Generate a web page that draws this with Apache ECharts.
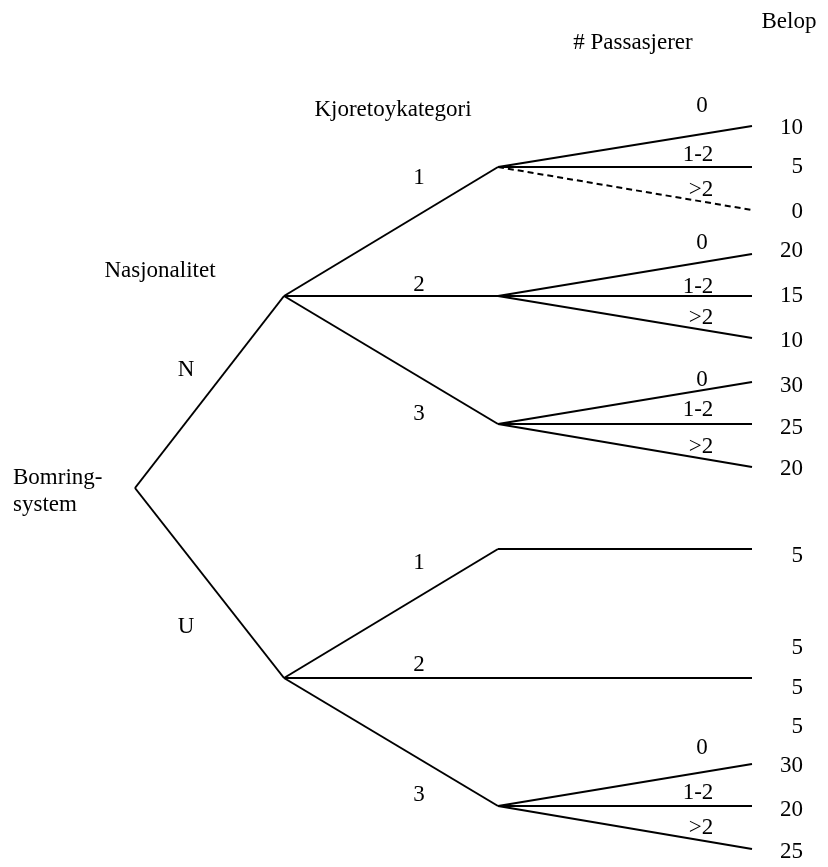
<!DOCTYPE html>
<html>
<head>
<meta charset="utf-8">
<script src="https://cdn.jsdelivr.net/npm/echarts@6/dist/echarts.min.js"></script>
<style>
  html, body { margin: 0; padding: 0; background: #fff; }
  #main { width: 828px; height: 867px; }
</style>
</head>
<body>
<div id="main"></div>
<script>
// node positions in diagram units (x to the right, y downwards)
var nodes = {
    root: [135, 488],
    N: [284, 296], U: [284, 678],
    N1: [498, 167], N2: [498, 296], N3: [498, 424],
    U1: [498, 549], U3: [498, 806],
    N1a: [752, 126], N1b: [752, 167], N1c: [752, 210],
    N2a: [752, 254], N2b: [752, 296], N2c: [752, 338],
    N3a: [752, 382], N3b: [752, 424], N3c: [752, 467],
    U1a: [752, 549], U2a: [752, 678],
    U3a: [752, 764], U3b: [752, 806], U3c: [752, 849]
};
var edges = [
    ['root', 'N'], ['root', 'U'],
    ['N', 'N1'], ['N', 'N2'], ['N', 'N3'],
    ['U', 'U1'], ['U', 'U2a'], ['U', 'U3'],
    ['N1', 'N1a'], ['N1', 'N1b'], ['N1', 'N1c', 'dashed'],
    ['N2', 'N2a'], ['N2', 'N2b'], ['N2', 'N2c'],
    ['N3', 'N3a'], ['N3', 'N3b'], ['N3', 'N3c'],
    ['U1', 'U1a'],
    ['U3', 'U3a'], ['U3', 'U3b'], ['U3', 'U3c']
];

// headers
var headers = [
    ['Belop', 789, 22],
    ['# Passasjerer', 633, 43],
    ['Kjoretoykategori', 393, 110],
    ['Nasjonalitet', 160, 271]
];
// nasjonalitet branches
var nasjonLabels = [['N', 186, 370], ['U', 186, 627]];
// kjoretoykategori branches
var kategoriLabels = [
    ['1', 419, 178], ['2', 419, 285], ['3', 419, 414],
    ['1', 419, 563], ['2', 419, 665], ['3', 419, 795]
];
// passasjerer branches
var passLabels = [
    ['0', 702, 106], ['1-2', 698, 155], ['>2', 701, 190],
    ['0', 702, 243], ['1-2', 698, 287], ['>2', 701, 318],
    ['0', 702, 380], ['1-2', 698, 410], ['>2', 701, 447],
    ['0', 702, 748], ['1-2', 698, 793], ['>2', 701, 828]
];
// belop (amounts), right aligned
var belop = [
    ['10', 128], ['5', 167], ['0', 212],
    ['20', 251], ['15', 296], ['10', 341],
    ['30', 386], ['25', 428], ['20', 469],
    ['5', 556],
    ['5', 648], ['5', 688], ['5', 727],
    ['30', 766], ['20', 810], ['25', 852]
];
var belopX = 803;

var font = 'Liberation Serif';
var fontSize = 23;

function textSeries(list, align, lineHeight) {
    return {
        type: 'scatter',
        symbolSize: 0,
        silent: true,
        itemStyle: { opacity: 1 },
        data: list.map(function (t) { return { name: t[0], value: [t[1], t[2]] }; }),
        label: {
            show: true,
            position: 'inside',
            align: align || 'center',
            verticalAlign: 'middle',
            formatter: '{b}',
            color: '#000',
            opacity: 1,
            fontFamily: font,
            fontSize: fontSize,
            lineHeight: lineHeight || fontSize
        }
    };
}

var myChart = echarts.init(document.getElementById('main'));
var option = {
    animation: false,
    grid: { left: 0, right: 0, top: 0, bottom: 0 },
    xAxis: { type: 'value', min: 0, max: 828, show: false },
    yAxis: { type: 'value', min: 0, max: 867, inverse: true, show: false },
    series: [
        {
            type: 'lines',
            coordinateSystem: 'cartesian2d',
            silent: true,
            lineStyle: { color: '#000', width: 2, opacity: 1 },
            data: edges.map(function (e) {
                var item = { coords: [nodes[e[0]], nodes[e[1]]] };
                if (e[2] === 'dashed') {
                    item.lineStyle = { type: [6, 4] };
                }
                return item;
            })
        },
        textSeries(headers),
        textSeries(nasjonLabels),
        textSeries(kategoriLabels),
        textSeries(passLabels),
        textSeries(belop.map(function (b) { return [b[0], belopX, b[1]]; }), 'right'),
        textSeries([['Bomring-\nsystem', 13, 491]], 'left', 27)
    ]
};
myChart.setOption(option);
</script>
</body>
</html>
